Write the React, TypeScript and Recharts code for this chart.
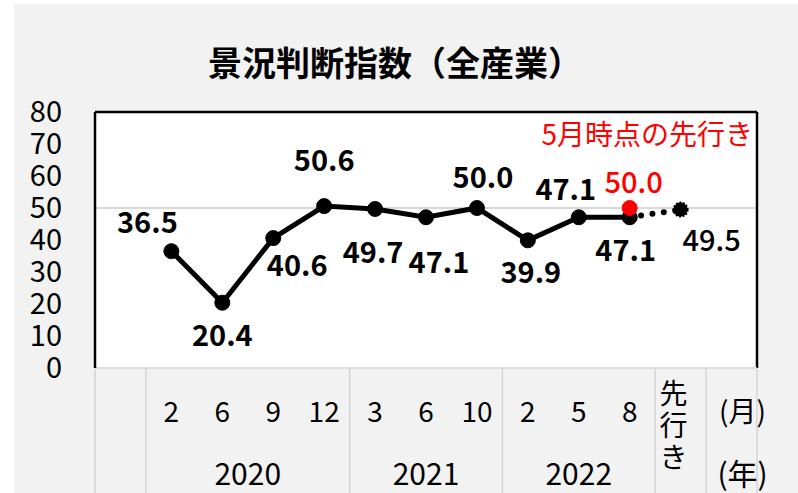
import React from "react";
import {
  LineChart,
  Line,
  XAxis,
  YAxis,
  CartesianGrid,
  ReferenceLine,
  LabelList,
} from "recharts";

const MONTHS = ["", "2", "6", "9", "12", "3", "6", "10", "2", "5", "8", "先行き", "(月)"];
const YEARS = ["", "", "2020", "", "", "", "2021", "", "", "2022", "", "", "(年)"];
const DI = [null, 36.5, 20.4, 40.6, 50.6, 49.7, 47.1, 50.0, 39.9, 47.1, 47.1, null, null];
const OUTLOOK = [null, null, null, null, null, null, null, null, null, null, 47.1, 49.5, null];
const MAY_OUTLOOK = [null, null, null, null, null, null, null, null, null, null, 50.0, null, null];
const Y_TICKS = [0, 10, 20, 30, 40, 50, 60, 70, 80];

const data = MONTHS.map((m, i) => ({
  cat: `c${i}`,
  di: DI[i],
  outlook: OUTLOOK[i],
  may: MAY_OUTLOOK[i],
}));

const FONT = '"Noto Sans CJK JP", "Noto Sans", sans-serif';
const BAND = 662 / MONTHS.length;
const SEPARATORS = [0, 1, 5, 8, 11, 12];

// label placement around each point: [dx, dy]
const DI_LABEL_POS: Record<number, [number, number]> = {
  1: [-24, -31],
  2: [0, 30],
  3: [24, 25],
  4: [0, -48],
  5: [-2, 41],
  6: [13, 43],
  7: [6, -33],
  8: [3, 30],
  9: [-13, -30],
  10: [-4, 31],
};

const diLabel = (props: any) => {
  const { x, y, value, index } = props;
  const pos = DI_LABEL_POS[index];
  if (value == null || !pos) return null;
  return (
    <text
      x={x + pos[0]}
      y={y + pos[1]}
      textAnchor="middle"
      dominantBaseline="central"
      fontFamily={FONT}
      fontWeight={700}
      fontSize={29}
      fill="#000"
    >
      {Number(value).toFixed(1)}
    </text>
  );
};

const outlookLabel = (props: any) => {
  const { x, y, value, index } = props;
  if (value == null || index !== 11) return null;
  return (
    <text
      x={x + 31}
      y={y + 28}
      textAnchor="middle"
      dominantBaseline="central"
      fontFamily={FONT}
      fontWeight={500}
      fontSize={29}
      fill="#000"
    >
      {Number(value).toFixed(1)}
    </text>
  );
};

const mayLabel = (props: any) => {
  const { x, y, value } = props;
  if (value == null) return null;
  return (
    <text
      x={x + 4}
      y={y - 28}
      textAnchor="middle"
      dominantBaseline="central"
      fontFamily={FONT}
      fontWeight={500}
      fontSize={29}
      fill="#ff0000"
    >
      {Number(value).toFixed(1)}
    </text>
  );
};

const outlookDot = (props: any) => {
  const { cx, cy, index } = props;
  if (index !== 11 || cx == null) return <g key={`od${index}`} />;
  return (
    <circle
      key={`od${index}`}
      cx={cx}
      cy={cy}
      r={7}
      fill="#000"
      stroke="#000"
      strokeWidth={2}
      strokeDasharray="2 1.5"
    />
  );
};

const MonthTick = (props: any) => {
  const { x, y, payload } = props;
  const i = payload.index;
  const label = MONTHS[i];
  const year = YEARS[i];
  const bottom = 493;
  const last = i === MONTHS.length - 1;
  return (
    <g>
      {SEPARATORS.includes(i) && (
        <line x1={x - BAND / 2} x2={x - BAND / 2} y1={y + 1} y2={bottom} stroke="#d4d4d4" strokeWidth={1.5} />
      )}
      {last && (
        <line x1={x + BAND / 2} x2={x + BAND / 2} y1={y + 1} y2={bottom} stroke="#d4d4d4" strokeWidth={1.5} />
      )}
      {label === "先行き" ? (
        label.split("").map((ch, k) => (
          <text
            key={k}
            x={x - 7}
            y={y + 24 + k * 32}
            fontFamily={FONT}
            fontSize={28}
            fill="#000"
            textAnchor="middle"
            dominantBaseline="central"
          >
            {ch}
          </text>
        ))
      ) : (
        <text
          x={last ? x + 11 : x}
          y={y + 42}
          fontFamily={FONT}
          fontSize={28}
          fill="#000"
          textAnchor="middle"
          dominantBaseline="central"
        >
          {label}
        </text>
      )}
      {year && (
        <text
          x={year === "2020" ? x + BAND / 2 : last ? x + 11 : x}
          y={y + 104}
          fontFamily={FONT}
          fontSize={30}
          fill="#000"
          textAnchor="middle"
          dominantBaseline="central"
        >
          {year}
        </text>
      )}
    </g>
  );
};

export default function App() {
  return (
    <div style={{ position: "absolute", left: 0, top: 0, width: 798, height: 493, background: "#fff", overflow: "hidden" }}>
      <div style={{ position: "absolute", left: 14, top: 4, right: 0, bottom: 0, background: "#f2f2f2" }} />
      <div
        style={{
          position: "absolute",
          left: 0,
          width: 790,
          top: 40,
          textAlign: "center",
          fontFamily: FONT,
          fontWeight: 700,
          fontSize: 34,
          lineHeight: "44px",
          color: "#000",
        }}
      >
        景況判断指数（全産業）
      </div>
      <div style={{ position: "absolute", left: 0, top: 0 }}>
        <LineChart width={798} height={493} data={data} margin={{ top: 112, right: 41, left: 0, bottom: 0 }}>
          <CartesianGrid fill="#fff" horizontal={false} vertical={false} />
          <ReferenceLine y={50} stroke="#d9d9d9" strokeWidth={2} />
          <ReferenceLine y={80} stroke="#000" strokeWidth={2.5} ifOverflow="visible" />
          <ReferenceLine x="c12" position="end" stroke="#000" strokeWidth={2.5} ifOverflow="visible" />
          <XAxis
            dataKey="cat"
            scale="band"
            height={125}
            interval={0}
            tickSize={0}
            tickMargin={0}
            tickLine={false}
            axisLine={{ stroke: "#d4d4d4", strokeWidth: 1.5 }}
            tick={<MonthTick />}
          />
          <YAxis
            domain={[0, 80]}
            ticks={Y_TICKS}
            interval={0}
            width={95}
            tickSize={0}
            tickMargin={33}
            tickLine={false}
            axisLine={{ stroke: "#000", strokeWidth: 2.5 }}
            tick={{ fontFamily: FONT, fontSize: 29, fill: "#000" }}
          />
          <Line
            dataKey="outlook"
            stroke="#000"
            strokeWidth={6}
            strokeDasharray="0 11.5"
            strokeLinecap="round"
            dot={outlookDot}
            activeDot={false}
            isAnimationActive={false}
            connectNulls={false}
          >
            <LabelList dataKey="outlook" content={outlookLabel} />
          </Line>
          <Line
            dataKey="di"
            stroke="#000"
            strokeWidth={5}
            dot={{ r: 7.5, fill: "#000", stroke: "#000", strokeWidth: 1 }}
            activeDot={false}
            isAnimationActive={false}
          >
            <LabelList dataKey="di" content={diLabel} />
          </Line>
          <Line
            dataKey="may"
            stroke="none"
            dot={{ r: 7.5, fill: "#ff0000", stroke: "#ff0000", strokeWidth: 1 }}
            activeDot={false}
            isAnimationActive={false}
          >
            <LabelList dataKey="may" content={mayLabel} />
          </Line>
        </LineChart>
      </div>
      <div
        style={{
          position: "absolute",
          right: 45,
          top: 116,
          fontFamily: FONT,
          fontSize: 28,
          lineHeight: "34px",
          letterSpacing: 0,
          color: "#ff0000",
          whiteSpace: "nowrap",
        }}
      >
        5月時点の先行き
      </div>
    </div>
  );
}
